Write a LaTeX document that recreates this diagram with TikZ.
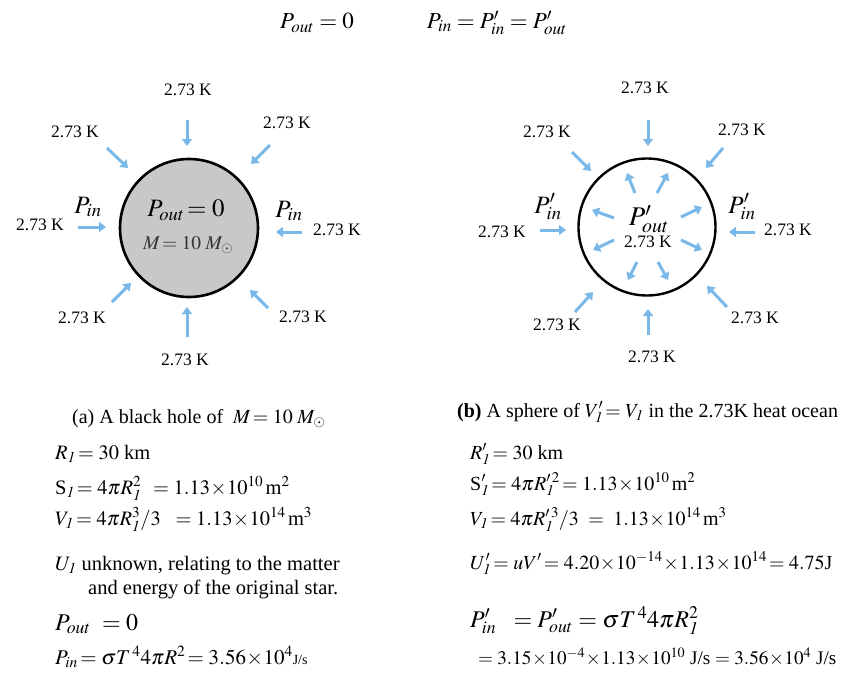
\documentclass[tikz,border=0pt]{standalone}
\usepackage{mathptmx}
\usepackage{fontspec}
\setmainfont{Liberation Serif}
\usetikzlibrary{arrows.meta}
\definecolor{arrowblue}{RGB}{122,184,232}
\definecolor{holegray}{RGB}{200,200,200}
\tikzset{
  blarrow/.style={draw=arrowblue, line width=3pt, -{Triangle[length=7pt,width=10pt]}},
  templab/.style={font=\fontsize{17.5}{19}\selectfont, inner sep=0pt},
  plab/.style={font=\fontsize{25}{27}\selectfont, inner sep=0pt},
  toplab/.style={font=\fontsize{23}{25}\selectfont, inner sep=0pt},
  txt/.style={font=\fontsize{20.5}{22}\selectfont, inner sep=0pt, anchor=base west},
  rtxt/.style={font=\fontsize{20}{22}\selectfont, inner sep=0pt, anchor=base west},
  holecirc/.style={circle, draw=black, line width=2.6pt, fill=holegray, minimum size=138pt, inner sep=0pt},
  spherecirc/.style={circle, draw=black, line width=2.4pt, fill=white, minimum size=137pt, inner sep=0pt},
}
\begin{document}
\begin{tikzpicture}[x=1pt,y=-1pt]
\useasboundingbox (0,0) rectangle (844,675);
\fill[white] (0,0) rectangle (844,675);

% top formulas
\node[toplab] (topA) at (317,23) {$P_{out} = 0$};
\node[toplab] (topB) at (497,23) {$P_{in} = P_{in}' = P_{out}'$};

% ---------- (a) black hole ----------
\node[holecirc] (hole) at (189,228) {};
\node[plab] (poutA) at (186,210) {$P_{out}\!= 0$};
\node[font=\fontsize{19.5}{21}\selectfont, inner sep=0pt, text=black!80] (massA) at (188,245) {$M\!= 10\;M_{\odot}$};
\node[plab] (pinAL) at (88,207) {$P_{in}$};
\node[plab] (pinAR) at (289,211) {$P_{in}$};

\foreach \n/\sx/\sy/\ex/\ey in {
  1/187/120/187/146, 2/107/148/128/168, 3/270/145/251/164, 4/78/227/106/227,
  5/302/232/276/232, 6/112/302/131/283, 7/187/337/187/307, 8/268/308/250/290}{
  \coordinate (as\n) at (\sx,\sy);
  \coordinate (ae\n) at (\ex,\ey);
  \draw[blarrow] (as\n) -- (ae\n);
}
\foreach \n/\x/\y in {1/188/90, 2/75/132, 3/287/123, 4/40/225, 5/337/230, 6/82/318, 7/303/317, 8/185/360}{
  \node[templab] (la\n) at (\x,\y) {2.73 K};
}

% ---------- (b) sphere ----------
\node[spherecirc] (sphere) at (647,227) {};
\node[font=\fontsize{27}{29}\selectfont, inner sep=0pt] (poutB) at (649,219) {$P_{out}'$};
\node[templab] (tinB) at (648,242) {2.73 K};
\node[plab] (pinBL) at (548,207) {$P_{in}'$};
\node[plab] (pinBR) at (742,207) {$P_{in}'$};

\foreach \n/\sx/\sy/\ex/\ey in {
  1/648/120/648/146, 2/572/152/591/171, 3/723/148/706/168, 4/540/230/566/230,
  5/755/232/729/232, 6/575/312/593/292, 7/648/335/648/309, 8/727/307/707/286,
  9/635/193/627/173, 10/657/193/668/173, 11/614/218/592/210, 12/681/217/702/207,
  13/614/240/593/250, 14/681/240/702/250, 15/637/262/628/280, 16/658/262/668/280}{
  \coordinate (bs\n) at (\sx,\sy);
  \coordinate (be\n) at (\ex,\ey);
  \draw[blarrow] (bs\n) -- (be\n);
}
\foreach \n/\x/\y in {1/645/88, 2/547/132, 3/742/130, 4/502/232, 5/788/230, 6/557/325, 7/755/318, 8/652/357}{
  \node[templab] (lb\n) at (\x,\y) {2.73 K};
}

% ---------- text (a) ----------
\node[rtxt] (ta0) at (72,423) {(a) A black hole of \ $M\!= 10\;M_{\odot}$};
\node[txt] (ta1) at (55,459) {$R_{\mathit 1}\!= 30$ km};
\node[txt] (ta2) at (55,494) {S$_{\mathit 1}\!= 4\pi R_{\mathit 1}^{2}\ \,= 1.13\!\times\!10^{10}\,$m$^2$};
\node[txt] (ta3) at (55,525) {$V_{\mathit 1}\!= 4\pi R_{\mathit 1}^{3}/3\ \ = 1.13\!\times\!10^{14}\,$m$^3$};
\node[txt] (ta4) at (55,570) {$U_{\mathit 1}$ unknown, relating to the matter};
\node[txt] (ta5) at (88,594) {and energy of the original star.};
\node[font=\fontsize{24}{26}\selectfont, inner sep=0pt, anchor=base west] (ta6) at (55,630) {$P_{out}\ = 0$};
\node[font=\fontsize{21}{23}\selectfont, inner sep=0pt, anchor=base west] (ta7) at (55,664) {$P_{in}\!= \sigma T^{\,4}4\pi R^{2}\!= 3.56\!\times\!10^{4}${\fontsize{14}{15}\selectfont J/s}};

% ---------- text (b) ----------
\node[rtxt] (tb0) at (457,417) {\textbf{(b)} A sphere of $V_{\mathit 1}'\!= V_{\mathit 1}$ in the 2.73K heat ocean};
\node[rtxt] (tb1) at (470,459) {$R_{\mathit 1}'\!= 30$ km};
\node[rtxt] (tb2) at (470,490) {S$_{\mathit 1}'\!= 4\pi R_{\mathit 1}'^{\,2}\!= 1.13\!\times\!10^{10}\,$m$^2$};
\node[rtxt] (tb3) at (470,525) {$V_{\mathit 1}\!= 4\pi R_{\mathit 1}'^{\,3}/3\ = \ 1.13\!\times\!10^{14}\,$m$^3$};
\node[rtxt] (tb4) at (470,569) {$U_{\mathit 1}'\!= uV'\!= 4.20\!\times\!10^{-14}\!\times\!1.13\!\times\!10^{14}\!= 4.75$J};
\node[font=\fontsize{24}{26}\selectfont, inner sep=0pt, anchor=base west] (tb5) at (470,627) {$P_{in}'\ \ = P_{out}' = \sigma T^{\,4}4\pi R_{\mathit 1}^{2}$};
\node[font=\fontsize{19.2}{21}\selectfont, inner sep=0pt, anchor=base west] (tb6) at (478,664) {$= 3.15\!\times\!10^{-4}\!\times\!1.13\!\times\!10^{10}$ J/s $= 3.56\!\times\!10^{4}$ J/s};
\end{tikzpicture}
\end{document}
